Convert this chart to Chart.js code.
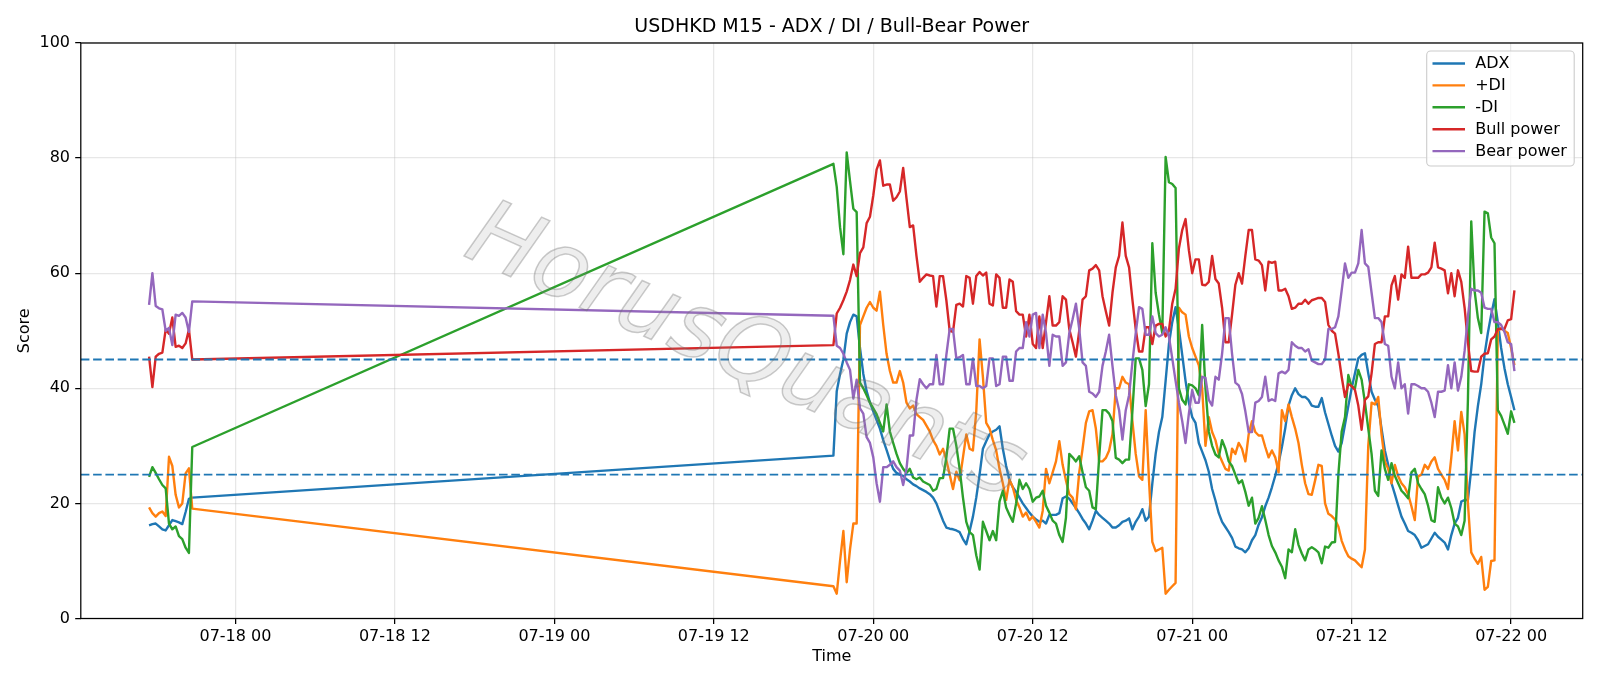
<!DOCTYPE html>
<html>
<head>
<meta charset="utf-8">
<script src="https://cdn.jsdelivr.net/npm/chart.js@4.4.1/dist/chart.umd.min.js"></script>
<style>
html,body{margin:0;padding:0;background:#ffffff;}
#wrap{width:1600px;height:686px;position:relative;}
</style>
</head>
<body>
<div id="wrap"><canvas id="c" width="1600" height="686"></canvas></div>
<script>
// ---------------- data ----------------
const chartTitle = 'USDHKD M15 - ADX / DI / Bull-Bear Power';
const seriesNames = ['ADX', '+DI', '-DI', 'Bull power', 'Bear power'];
const seriesColors = ['#1f77b4', '#ff7f0e', '#2ca02c', '#d62728', '#9467bd'];
// two runs of consecutive M15 bars
const segmentStarts = ['2025-07-17T17:30:00Z', '2025-07-19T21:00:00Z'];
const segmentBars = [14, 206];
const barMinutes = 15;
const xTickTimes = ['2025-07-18T00:00:00Z','2025-07-18T12:00:00Z','2025-07-19T00:00:00Z','2025-07-19T12:00:00Z',
  '2025-07-20T00:00:00Z','2025-07-20T12:00:00Z','2025-07-21T00:00:00Z','2025-07-21T12:00:00Z','2025-07-22T00:00:00Z'];
const yTicks = [0, 20, 40, 60, 80, 100];
const refLevels = [45, 25];

const adx = [
  16.2, 16.4, 16.5, 16.0, 15.5, 15.3, 16.2, 17.1, 16.9, 16.7, 16.4, 18.5, 20.8, 21.0,
  28.3, 39.5, 42.5, 45.0, 49.5, 51.5, 52.8, 52.5, 47.0, 42.5,
  39.5, 37.5, 36.0, 34.5, 33.0, 31.0, 29.3, 27.5, 26.0, 25.3,
  25.0, 24.8, 24.2, 23.8, 23.3, 23.0, 22.6, 22.3, 22.0, 21.6,
  21.0, 20.0, 18.5, 17.0, 15.8, 15.6, 15.5, 15.3, 15.0, 13.8,
  12.9, 15.2, 17.7, 21.0, 25.0, 29.5, 30.8, 32.0, 32.5, 32.8,
  33.4, 29.5, 26.5, 24.0, 22.8, 22.0, 21.0, 20.0, 19.2, 18.4,
  17.7, 17.2, 16.8, 17.0, 16.5, 18.0, 18.0, 18.0, 18.3, 20.9,
  21.2, 20.8, 20.0, 19.2, 18.3, 17.3, 16.5, 15.5, 17.0, 18.7,
  18.0, 17.5, 17.0, 16.5, 15.8, 15.8, 16.2, 16.8, 17.0, 17.4,
  15.5, 16.8, 17.7, 19.0, 17.0, 17.7, 23.5, 28.6, 32.4, 35.0,
  41.3, 47.7, 51.5, 54.1, 50.3, 45.8, 41.3, 37.5, 35.0, 34.0,
  30.5, 29.0, 27.5, 25.5, 22.5, 20.5, 18.3, 16.8, 15.9, 15.0,
  14.0, 12.5, 12.2, 12.0, 11.5, 12.2, 13.6, 14.5, 16.3, 17.6,
  19.5, 21.0, 22.8, 24.8, 27.0, 29.8, 33.0, 37.0, 38.8, 40.0,
  39.0, 38.5, 38.5, 38.0, 37.0, 36.8, 36.8, 38.3, 35.8, 33.8,
  31.8, 30.0, 29.0, 30.5, 33.7, 36.9, 40.0, 42.6, 45.2, 45.8,
  46.1, 42.6, 39.4, 38.0, 36.9, 33.0, 29.2, 26.7, 23.5, 21.6,
  19.6, 17.7, 16.5, 15.2, 14.9, 14.5, 13.6, 12.3, 12.6, 12.9,
  13.9, 14.9, 14.2, 13.7, 13.2, 12.0, 14.5, 16.5, 17.5, 20.3,
  20.6, 20.6, 26.0, 32.4, 36.9, 40.7, 45.8, 49.6, 52.8, 55.5,
  51.5, 47.0, 43.5, 40.7, 38.5, 36.2
];
const plusDI = [
  19.3, 18.3, 17.7, 18.3, 18.6, 17.8, 28.1, 26.5, 21.5, 19.3, 20.0, 25.2, 26.1, 19.1,
  5.6, 4.3, 10.0, 15.2, 6.3, 12.0, 16.5, 16.5, 51.0, 52.5,
  54.0, 55.0, 54.0, 53.5, 56.8, 51.0, 46.0, 43.0, 41.0, 41.0,
  43.0, 41.0, 37.5, 36.5, 37.0, 35.5, 35.0, 34.5, 33.5, 32.5,
  31.0, 30.0, 28.5, 29.5, 27.5, 25.0, 22.5, 25.5, 24.0, 28.0,
  32.0, 29.5, 29.2, 36.0, 48.5, 42.0, 34.0, 33.0, 31.0, 29.2,
  26.0, 23.5, 20.6, 24.1, 22.8, 20.6, 19.3, 17.7, 18.4, 17.1,
  17.7, 16.8, 15.8, 18.7, 26.0, 23.5, 25.4, 27.3, 30.8, 26.7,
  24.0, 21.6, 21.0, 19.0, 25.4, 29.5, 34.0, 36.0, 36.2, 33.0,
  27.3, 27.3, 27.9, 29.2, 32.0, 40.0, 40.0, 42.0, 41.0, 40.7,
  34.3, 28.6, 24.7, 24.1, 36.2, 24.0, 13.3, 11.7, 12.0, 12.3,
  4.3, 5.0, 5.6, 6.2, 54.0, 53.2, 52.8, 49.0, 47.0, 45.5,
  44.0, 40.0, 30.0, 35.0, 32.4, 31.0, 28.6, 27.3, 26.0, 25.7,
  29.5, 28.6, 30.5, 29.5, 27.3, 32.0, 34.3, 32.4, 31.8, 31.8,
  29.8, 28.0, 29.2, 28.0, 25.4, 36.2, 34.3, 37.2, 35.0, 33.0,
  30.5, 26.7, 23.5, 21.6, 21.5, 24.0, 26.7, 26.5, 20.0, 18.2,
  17.8, 17.2, 16.0, 13.5, 12.0, 10.8, 10.4, 10.1, 9.5, 8.9,
  12.0, 30.0, 37.5, 37.2, 38.5, 32.0, 27.3, 26.0, 23.5, 26.7,
  24.7, 23.5, 22.8, 21.6, 19.5, 17.1, 24.7, 25.0, 26.7, 26.0,
  27.3, 28.0, 26.0, 25.0, 24.1, 22.5, 28.0, 34.3, 29.2, 35.9,
  32.0, 20.0, 11.5, 10.4, 9.5, 10.7, 5.0, 5.5, 10.0, 10.1,
  50.0, 50.5, 50.0, 49.6, 47.0, 44.0
];
const minusDI = [
  24.6, 26.3, 25.3, 24.2, 23.2, 22.6, 16.5, 15.5, 16.0, 14.3, 13.8, 12.3, 11.4, 29.8,
  79.0, 75.0, 68.0, 63.3, 81.0, 76.0, 71.2, 70.6, 41.0, 40.0,
  38.8, 37.5, 36.5, 35.5, 34.0, 32.5, 37.2, 32.5, 30.5, 28.6,
  27.0, 26.0, 25.3, 26.0, 24.5, 24.2, 24.5, 23.8, 23.5, 23.2,
  22.2, 22.5, 24.4, 24.4, 28.0, 33.0, 33.0, 30.0, 26.0, 21.0,
  16.8, 15.0, 14.5, 11.0, 8.5, 16.8, 15.2, 13.6, 15.2, 13.6,
  20.3, 22.2, 19.3, 18.0, 16.8, 20.0, 24.1, 22.5, 23.5, 22.5,
  20.3, 21.0, 21.2, 22.2, 19.6, 18.4, 17.0, 16.5, 14.5, 13.3,
  17.5, 28.6, 28.0, 27.3, 28.2, 25.4, 22.8, 22.2, 19.3, 19.0,
  28.0, 36.2, 36.2, 35.6, 34.3, 27.9, 27.6, 27.0, 27.6, 27.6,
  36.0, 45.2, 45.2, 43.2, 36.9, 40.7, 65.2, 56.6, 52.8, 49.6,
  80.2, 75.8, 75.5, 74.8, 40.0, 38.0, 37.2, 40.7, 40.5, 40.0,
  38.8, 51.0, 40.0, 32.5, 30.0, 28.5, 28.0, 31.0, 29.5, 27.3,
  26.5, 25.0, 23.5, 24.0, 22.0, 19.6, 21.0, 16.5, 17.5, 19.5,
  17.1, 14.5, 12.6, 11.5, 10.1, 9.0, 7.0, 12.0, 11.5, 15.5,
  12.8, 11.3, 10.1, 12.0, 12.4, 12.0, 11.5, 9.6, 12.5, 12.3,
  13.2, 13.3, 25.0, 32.5, 35.0, 42.3, 40.3, 40.0, 43.2, 41.5,
  37.5, 33.0, 28.6, 22.2, 21.3, 29.2, 26.0, 24.1, 27.0, 24.8,
  23.5, 22.2, 21.6, 20.9, 25.4, 26.0, 23.5, 22.5, 21.6, 19.6,
  17.1, 16.8, 22.8, 21.0, 20.0, 21.0, 19.2, 16.5, 16.0, 14.5,
  17.0, 38.0, 69.0, 57.0, 52.2, 49.6, 70.7, 70.4, 66.2, 65.2,
  36.2, 35.2, 33.7, 32.1, 36.0, 34.0
];
const bullPower = [
  45.5, 40.2, 45.5, 46.0, 46.2, 50.2, 49.5, 52.3, 47.2, 47.4, 47.0, 47.8, 50.2, 45.0,
  47.5, 53.0, 54.0, 55.3, 56.8, 58.8, 61.5, 59.5, 63.5, 64.5,
  68.7, 69.8, 73.5, 78.0, 79.6, 75.2, 75.4, 75.4, 72.6, 73.2,
  74.2, 78.3, 73.0, 68.0, 68.3, 63.0, 58.5, 59.2, 59.8, 59.6,
  59.5, 54.2, 59.5, 59.5, 55.3, 50.0, 49.8, 54.5, 54.7, 54.2,
  59.5, 59.2, 54.7, 59.5, 60.2, 59.6, 60.1, 54.7, 54.4, 59.8,
  59.2, 54.0, 54.0, 58.9, 58.5, 53.4, 52.8, 52.8, 49.0, 52.8,
  47.7, 47.0, 52.5, 47.0, 51.5, 56.0, 50.9, 50.9, 51.5, 56.0,
  55.4, 50.3, 48.0, 45.5, 50.0, 55.4, 56.0, 60.5, 60.8, 61.4,
  60.5, 56.0, 53.4, 50.9, 56.6, 61.0, 63.0, 68.8, 63.0, 61.0,
  55.4, 50.3, 46.4, 46.4, 50.6, 50.6, 47.7, 50.9, 51.2, 51.2,
  49.0, 50.0, 54.7, 57.3, 64.3, 67.5, 69.4, 64.0, 60.0, 62.4,
  62.4, 58.0, 57.9, 58.5, 63.0, 59.0, 58.2, 54.0, 48.0, 48.0,
  52.8, 58.0, 60.0, 58.2, 63.0, 67.5, 67.5, 62.4, 62.2, 61.4,
  57.0, 62.0, 61.8, 62.0, 57.0, 57.0, 57.3, 56.0, 53.8, 54.0,
  54.7, 54.7, 55.4, 54.7, 55.3, 55.5, 55.7, 55.7, 55.0, 51.0,
  50.0, 49.5, 46.0, 42.0, 38.5, 40.7, 40.4, 39.7, 37.0, 32.8,
  38.0, 38.6, 42.6, 47.7, 48.0, 48.0, 52.5, 52.5, 57.9, 59.5,
  55.4, 59.8, 59.2, 64.6, 59.2, 59.2, 59.2, 59.8, 59.8, 60.1,
  61.0, 65.3, 61.0, 60.8, 60.5, 56.5, 60.0, 56.0, 60.5, 58.5,
  54.0, 48.0, 43.0, 42.9, 42.9, 45.5, 46.0, 46.1, 48.5, 49.0,
  50.3, 50.3, 50.3, 51.8, 52.0, 57.0
];
const bearPower = [
  54.5, 60.0, 54.3, 53.9, 53.7, 50.0, 50.5, 47.5, 52.8, 52.6, 53.1, 52.3, 49.8, 55.1,
  52.6, 47.4, 47.0, 46.0, 44.5, 43.2, 38.2, 41.5, 36.5, 35.6,
  31.5, 30.5, 28.0, 23.5, 20.3, 26.3, 26.3, 26.7, 27.3, 26.3,
  25.7, 23.2, 26.0, 31.8, 31.8, 38.0, 41.6, 40.7, 40.0, 40.7,
  40.7, 45.8, 40.7, 40.7, 45.8, 50.3, 50.3, 45.2, 45.4, 45.8,
  40.7, 40.7, 45.2, 40.4, 40.4, 40.0, 40.4, 45.2, 45.2, 40.4,
  40.7, 45.5, 45.5, 41.3, 41.3, 46.4, 47.0, 47.0, 51.5, 49.0,
  52.8, 53.1, 47.0, 52.8, 49.6, 43.9, 49.3, 49.0, 49.0, 43.9,
  44.5, 49.6, 52.0, 54.7, 50.3, 44.5, 43.9, 39.4, 39.1, 38.5,
  39.4, 43.9, 46.4, 49.3, 43.9, 38.8, 36.2, 31.1, 36.2, 38.8,
  44.5, 49.6, 54.1, 53.8, 49.3, 49.3, 52.5, 49.6, 49.0, 49.3,
  50.6, 49.0, 45.2, 41.3, 37.5, 34.3, 30.5, 35.6, 39.7, 37.5,
  37.5, 42.0, 41.8, 38.0, 37.0, 42.0, 41.5, 46.0, 52.2, 52.2,
  46.0, 41.0, 40.5, 39.0, 36.0, 32.4, 32.4, 37.5, 37.8, 38.5,
  42.0, 37.8, 38.1, 37.8, 42.6, 42.9, 42.6, 43.2, 48.0, 47.4,
  47.0, 47.0, 46.4, 46.8, 44.8, 44.5, 44.2, 44.2, 45.0, 50.3,
  50.3, 50.6, 52.5, 57.0, 61.7, 59.2, 60.1, 60.1, 61.7, 67.5,
  61.7, 61.1, 56.6, 52.2, 52.2, 51.5, 47.7, 47.4, 42.0, 40.0,
  44.5, 40.0, 40.7, 35.6, 40.7, 40.7, 40.4, 40.0, 40.0, 39.4,
  37.5, 35.0, 39.4, 39.4, 39.6, 44.0, 40.0, 44.5, 39.6, 42.0,
  46.5, 52.5, 57.3, 57.0, 57.0, 56.6, 54.0, 53.8, 53.8, 51.5,
  51.5, 51.0, 49.8, 48.0, 47.7, 43.0
];
const seriesValues = [adx, plusDI, minusDI, bullPower, bearPower];
const watermarkText = 'HorusQuants';

// ---------------- build ----------------
const times = [];
segmentStarts.forEach((s, k) => {
  const t0 = Date.parse(s);
  for (let n = 0; n < segmentBars[k]; n++) times.push(t0 + n * barMinutes * 60000);
});
seriesValues.forEach((arr, k) => {
  if (arr.length !== times.length) throw new Error(seriesNames[k] + ' has ' + arr.length + ' values, expected ' + times.length);
});
const tMin = times[0], tMax = times[times.length - 1];
const margin = (tMax - tMin) * 0.05;
const xMin = tMin - margin, xMax = tMax + margin;
const tickVals = xTickTimes.map(s => Date.parse(s));
const pad2 = n => String(n).padStart(2, '0');
const fmtTick = v => { const d = new Date(v); return pad2(d.getUTCMonth() + 1) + '-' + pad2(d.getUTCDate()) + ' ' + pad2(d.getUTCHours()); };

const FONT = 'DejaVu Sans';
const LW = 2.4;

const datasets = seriesValues.map((arr, k) => ({
  label: seriesNames[k],
  data: arr.map((v, n) => ({ x: times[n], y: v })),
  borderColor: seriesColors[k],
  backgroundColor: seriesColors[k],
  borderWidth: LW,
  pointRadius: 0,
  tension: 0,
  fill: false,
  borderJoinStyle: 'round',
  borderCapStyle: 'butt',
  order: 10 - k
}));
refLevels.forEach((lvl, k) => {
  datasets.push({
    label: 'ref' + lvl,
    data: [{ x: xMin, y: lvl }, { x: xMax, y: lvl }],
    borderColor: '#1f77b4',
    borderWidth: 1.9,
    borderDash: [8.6, 3.7],
    pointRadius: 0,
    fill: false,
    order: 2 - k
  });
});

const framePlugin = {
  id: 'frame',
  afterDatasetsDraw(chart) {
    const { ctx, chartArea: a } = chart;
    ctx.save();
    ctx.strokeStyle = '#000';
    ctx.lineWidth = 1.25;
    ctx.strokeRect(a.left, a.top, a.right - a.left, a.bottom - a.top);
    ctx.restore();
  }
};

const watermarkPlugin = {
  id: 'watermark',
  afterDatasetsDraw(chart) {
    const { ctx } = chart;
    ctx.save();
    ctx.translate(745, 355);
    ctx.rotate(24 * Math.PI / 180);
    ctx.font = 'italic 300 92px "DejaVu Sans"';
    ctx.textAlign = 'center';
    ctx.textBaseline = 'middle';
    ctx.fillStyle = 'rgba(150,150,150,0.16)';
    ctx.strokeStyle = 'rgba(110,110,110,0.35)';
    ctx.lineWidth = 1.5;
    ctx.fillText(watermarkText, 0, 0);
    ctx.strokeText(watermarkText, 0, 0);
    ctx.restore();
  }
};

const legendPlugin = {
  id: 'mplLegend',
  afterDraw(chart) {
    const { ctx } = chart;
    const a = chart.chartArea;
    const boxR = a.right - 8.5, boxT = a.top + 8;
    const boxL = 1426.7, boxB = boxT + 115;
    ctx.save();
    const r = 4;
    ctx.beginPath();
    ctx.moveTo(boxL + r, boxT);
    ctx.lineTo(boxR - r, boxT); ctx.arcTo(boxR, boxT, boxR, boxT + r, r);
    ctx.lineTo(boxR, boxB - r); ctx.arcTo(boxR, boxB, boxR - r, boxB, r);
    ctx.lineTo(boxL + r, boxB); ctx.arcTo(boxL, boxB, boxL, boxB - r, r);
    ctx.lineTo(boxL, boxT + r); ctx.arcTo(boxL, boxT, boxL + r, boxT, r);
    ctx.closePath();
    ctx.fillStyle = 'rgba(255,255,255,0.8)';
    ctx.fill();
    ctx.strokeStyle = '#cccccc';
    ctx.lineWidth = 1.1;
    ctx.stroke();
    ctx.font = '16px "' + FONT + '"';
    ctx.textBaseline = 'middle';
    ctx.textAlign = 'left';
    seriesNames.forEach((name, k) => {
      const y = boxT + 12.5 + k * 21.9;
      ctx.strokeStyle = seriesColors[k];
      ctx.lineWidth = LW;
      ctx.beginPath();
      ctx.moveTo(boxL + 5.8, y);
      ctx.lineTo(boxL + 38.3, y);
      ctx.stroke();
      ctx.fillStyle = '#000';
      ctx.fillText(name, boxL + 48.5, y + 0.5);
    });
    ctx.restore();
  }
};

new Chart(document.getElementById('c'), {
  type: 'line',
  data: { datasets },
  options: {
    responsive: false,
    animation: false,
    devicePixelRatio: 1,
    parsing: true,
    layout: { padding: { left: 0, right: 17.3, top: 0, bottom: 0 } },
    plugins: {
      legend: { display: false },
      tooltip: { enabled: false },
      title: {
        display: true,
        fullSize: false,
        text: chartTitle,
        color: '#000',
        font: { family: FONT, size: 19, weight: 'normal', lineHeight: 1.2 },
        padding: { top: 15.4, bottom: 4.8 }
      }
    },
    scales: {
      x: {
        type: 'linear',
        min: xMin,
        max: xMax,
        afterFit(s) { s.height = 67.5; },
        afterBuildTicks(s) { s.ticks = tickVals.map(v => ({ value: v })); },
        grid: { color: 'rgba(176,176,176,0.3)', lineWidth: 1.25, drawTicks: true, tickLength: 5.6, tickColor: '#000', tickWidth: 1.25 },
        border: { display: false },
        ticks: {
          autoSkip: false, maxRotation: 0, minRotation: 0,
          color: '#000', padding: 2.8,
          font: { family: FONT, size: 16 },
          callback: v => fmtTick(v)
        },
        title: { display: true, text: 'Time', color: '#000', font: { family: FONT, size: 16 }, padding: { top: 0, bottom: 19.4 } }
      },
      y: {
        type: 'linear',
        min: 0,
        max: 100,
        afterFit(s) { s.width = 80.8; },
        afterBuildTicks(s) { s.ticks = yTicks.map(v => ({ value: v })); },
        grid: { color: 'rgba(176,176,176,0.3)', lineWidth: 1.25, drawTicks: true, tickLength: 5.6, tickColor: '#000', tickWidth: 1.25 },
        border: { display: false },
        ticks: { color: '#000', padding: 5.2, font: { family: FONT, size: 16 } },
        title: { display: true, text: 'Score', color: '#000', font: { family: FONT, size: 16 }, padding: { top: 14.9, bottom: 0 } }
      }
    }
  },
  plugins: [framePlugin, watermarkPlugin, legendPlugin]
});
</script>
</body>
</html>
